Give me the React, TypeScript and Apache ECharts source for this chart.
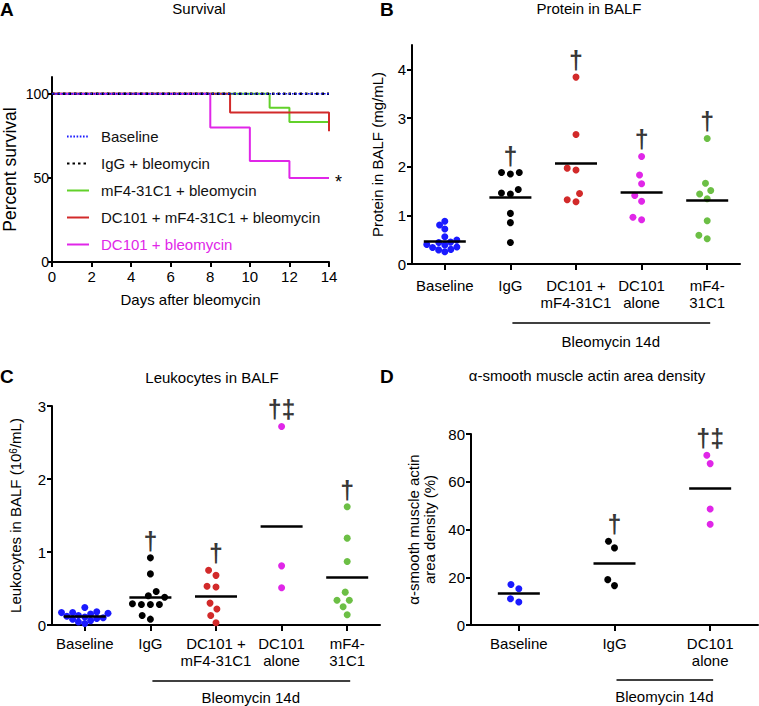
import React, { useEffect, useRef } from 'react';
import * as echarts from 'echarts';

// ---------- Panel A: survival (Kaplan-Meier steps, [day, percent]) ----------
const survNames = [
  'Baseline',
  'IgG + bleomycin',
  'mF4-31C1 + bleomycin',
  'DC101 + mF4-31C1 + bleomycin',
  'DC101 + bleomycin',
];
const survBaseline = [[0, 100], [14, 100]];
const survIgG = [[0, 100], [14, 100]];
const survMF4 = [[0, 100], [11, 91.7], [12, 83.3], [14, 83.3]];
const survCombo = [[0, 100], [9, 88.9], [14, 77.8]];
const survDC101 = [[0, 100], [8, 80], [10, 60], [12, 50], [14, 50]];
const survYTicks = [0, 50, 100];

// ---------- Categories ----------
const groups5 = ['Baseline', 'IgG', 'DC101 +\nmF4-31C1', 'DC101\nalone', 'mF4-\n31C1'];
const groups3 = ['Baseline', 'IgG', 'DC101\nalone'];

// ---------- Panel B: protein in BALF (mg/mL) ----------
const protBaseline = [0.88, 0.8, 0.72, 0.56, 0.49, 0.45, 0.44, 0.4, 0.39, 0.35, 0.34, 0.3, 0.29, 0.25];
const protIgG = [1.88, 1.85, 1.88, 1.53, 1.44, 1.46, 1.04, 0.85, 0.44];
const protCombo = [3.84, 2.66, 1.97, 1.93, 1.45, 1.28, 1.32];
const protDC101 = [2.21, 1.83, 1.65, 1.41, 1.29, 0.91, 0.96];
const protMF4 = [2.58, 1.66, 1.51, 1.44, 1.34, 0.89, 0.52, 0.59];
const protSig = ['', '†', '†', '†', '†'];
const protYTicks = [0, 1, 2, 3, 4];

// ---------- Panel C: leukocytes in BALF (10^6/mL) ----------
const leukBaseline = [0.24, 0.18, 0.17, 0.17, 0.16, 0.15, 0.13, 0.12, 0.11, 0.1, 0.09, 0.08, 0.06, 0.04, 0.02];
const leukIgG = [0.92, 0.7, 0.46, 0.4, 0.38, 0.29, 0.28, 0.28, 0.28, 0.13, 0.08];
const leukCombo = [0.75, 0.68, 0.52, 0.53, 0.3, 0.22, 0.13, 0.03];
const leukDC101 = [2.72, 0.81, 0.51];
const leukMF4 = [1.62, 1.19, 0.87, 0.45, 0.34, 0.34, 0.25, 0.14];
const leukSig = ['', '†', '†', '†‡', '†'];

// ---------- Panel D: alpha-SMA area density (%) ----------
const smaBaseline = [17.0, 15.2, 11.0, 9.6];
const smaIgG = [35.1, 32.3, 19.0, 16.5];
const smaDC101 = [71.1, 67.6, 48.6, 42.2];
const smaSig = ['', '†', '†‡'];

const FONT = "'Liberation Sans', Arial, Helvetica, sans-serif";
const BLUE = '#1a1aff';
const BLACK = '#000000';
const RED = '#d22a2a';
const MAG = '#e026e8';
const GREEN_LINE = '#62d12a';
const GREEN_DOT = '#6cbf45';

const mean = (a: number[]) => a.reduce((s, v) => s + v, 0) / a.length;

// beeswarm layout (pixel space), lowest values placed first so clusters fan out upward
function swarmOffsets(values: number[], pxPerUnit: number, d: number): number[] {
  const order = values.map((_, i) => i).sort((a, b) => values[a] - values[b]);
  const placed: { x: number; y: number }[] = [];
  const out = new Array(values.length).fill(0);
  for (const i of order) {
    const y = values[i] * pxPerUnit;
    const cands = [0];
    for (const p of placed) {
      const dy = Math.abs(p.y - y);
      if (dy < d) {
        const dx = Math.sqrt(d * d - dy * dy);
        cands.push(p.x + dx, p.x - dx);
      }
    }
    cands.sort((a, b) => Math.abs(a) - Math.abs(b) || a - b);
    let chosen = 0;
    for (const c of cands) {
      if (placed.every((p) => (p.x - c) ** 2 + (p.y - y) ** 2 >= d * d - 1e-6)) {
        chosen = c;
        break;
      }
    }
    placed.push({ x: chosen, y });
    out[i] = chosen;
  }
  return out;
}

function dotSeries(
  groups: number[][],
  colors: string[],
  sig: string[],
  xAxisIndex: number,
  yAxisIndex: number,
  gridW: number,
  gridH: number,
  yMax: number
) {
  const n = groups.length;
  const pxCat = gridW / n;
  const pxY = gridH / yMax;
  const hw = 21 / pxCat;
  const series: any[] = [];
  groups.forEach((vals, g) => {
    const off = swarmOffsets(vals, pxY, vals.length >= 12 ? 6.5 : 9);
    const m = mean(vals);
    series.push({
      type: 'scatter',
      xAxisIndex,
      yAxisIndex,
      symbol: 'circle',
      symbolSize: 7,
      itemStyle: { color: colors[g], opacity: 1 },
      data: vals.map((v, k) => [g + off[k] / pxCat, v]),
      markLine: {
        silent: true,
        symbol: ['none', 'none'],
        label: { show: false },
        lineStyle: { color: '#000', width: 2.5, type: 'solid' },
        data: [[{ coord: [g - hw, m] }, { coord: [g + hw, m] }]],
      },
      z: 3,
    });
  });
  series.push({
    type: 'scatter',
    xAxisIndex,
    yAxisIndex,
    symbolSize: 1,
    silent: true,
    itemStyle: { color: 'rgba(0,0,0,0)' },
    data: sig
      .map((s, g) => ({ name: s, value: [g, Math.max(...groups[g])] }))
      .filter((d) => d.name),
    label: {
      show: true,
      position: 'top',
      distance: 4,
      formatter: '{b}',
      fontSize: 25,
      fontWeight: 'bold',
      color: '#000',
      fontFamily: FONT,
    },
    z: 4,
  });
  return series;
}

const axisLineStyle = { show: true, onZero: false, lineStyle: { color: '#000', width: 2 } };
const tickStyle = { show: true, length: 5, lineStyle: { color: '#000', width: 2 } };
const labelStyle = { color: '#000', fontSize: 15, fontFamily: FONT };

function catAxis(gridIndex: number, data: string[], margin: number) {
  return {
    type: 'category',
    gridIndex,
    data,
    boundaryGap: true,
    axisLine: axisLineStyle,
    axisTick: { ...tickStyle, alignWithLabel: true, length: 6 },
    axisLabel: { ...labelStyle, interval: 0, lineHeight: 17, margin },
    splitLine: { show: false },
  };
}
function hiddenValAxis(gridIndex: number, n: number) {
  return { type: 'value', gridIndex, min: -0.5, max: n - 0.5, show: false };
}

// grid geometry (px)
const GA = { left: 52, top: 77, width: 277, height: 185 };
const GB = { left: 412, top: 45, width: 328, height: 219 };
const GC = { left: 52, top: 406, width: 328, height: 219 };
const GD = { left: 471, top: 434, width: 287, height: 191 };

export default function App() {
  const ref = useRef<HTMLDivElement>(null);
  useEffect(() => {
    document.body.style.margin = '0';
    const chart = echarts.init(ref.current!, null, { renderer: 'svg' });

    const survSeries = [
      { name: survNames[2], data: survMF4, color: GREEN_LINE },
      { name: survNames[3], data: survCombo, color: RED },
      { name: survNames[4], data: survDC101, color: MAG },
    ].map((s) => ({
      type: 'line',
      name: s.name,
      step: 'end',
      symbol: 'none',
      xAxisIndex: 0,
      yAxisIndex: 0,
      data: s.data,
      color: s.color,
      lineStyle: { color: s.color, width: 2 },
      z: 2,
      endLabel:
        s.name === survNames[4]
          ? { show: true, formatter: '*', fontSize: 18, color: '#000', distance: 6, fontFamily: FONT, offset: [0, 4] }
          : undefined,
    }));

    const option: any = {
      animation: false,
      textStyle: { fontFamily: FONT },
      grid: [GA, GB, GC, GD].map((g) => ({ ...g, containLabel: false })),
      legend: {
        left: 61,
        top: 124,
        orient: 'vertical',
        itemWidth: 22,
        itemHeight: 14,
        itemGap: 12,
        itemStyle: { opacity: 0 },
        textStyle: { fontSize: 15, color: '#111', fontFamily: FONT, padding: [0, 0, 0, 7] },
        data: [
          { name: survNames[0] },
          { name: survNames[1] },
          { name: survNames[2] },
          { name: survNames[3] },
          { name: survNames[4], textStyle: { color: MAG } },
        ],
      },
      xAxis: [
        {
          type: 'value',
          gridIndex: 0,
          min: 0,
          max: 14,
          interval: 2,
          axisLine: axisLineStyle,
          axisTick: tickStyle,
          axisLabel: { ...labelStyle, margin: 7 },
          splitLine: { show: false },
          name: 'Days after bleomycin',
          nameLocation: 'middle',
          nameGap: 30,
          nameTextStyle: { ...labelStyle },
        },
        catAxis(1, groups5, 13),
        hiddenValAxis(1, 5),
        catAxis(2, groups5, 10),
        hiddenValAxis(2, 5),
        catAxis(3, groups3, 10),
        hiddenValAxis(3, 3),
      ],
      yAxis: [
        {
          type: 'value',
          gridIndex: 0,
          min: 0,
          max: 110,
          axisLine: axisLineStyle,
          axisTick: { ...tickStyle, length: 4, customValues: survYTicks },
          axisLabel: { ...labelStyle, fontSize: 14, margin: 3, customValues: survYTicks },
          splitLine: { show: false },
          name: 'Percent survival',
          nameLocation: 'middle',
          nameGap: 33,
          nameTextStyle: { ...labelStyle, fontSize: 17.5 },
        },
        {
          type: 'value',
          gridIndex: 1,
          min: 0,
          max: 4.5,
          axisLine: axisLineStyle,
          axisTick: { ...tickStyle, customValues: protYTicks },
          axisLabel: { ...labelStyle, margin: 6, customValues: protYTicks },
          splitLine: { show: false },
          name: 'Protein in BALF (mg/mL)',
          nameLocation: 'middle',
          nameGap: 27,
          nameTextStyle: { ...labelStyle },
        },
        {
          type: 'value',
          gridIndex: 2,
          min: 0,
          max: 3,
          interval: 1,
          axisLine: axisLineStyle,
          axisTick: tickStyle,
          axisLabel: { ...labelStyle, margin: 6 },
          splitLine: { show: false },
          name: 'Leukocytes in BALF (10{sup|6}/mL)',
          nameLocation: 'middle',
          nameGap: 29,
          nameTextStyle: {
            ...labelStyle,
            rich: { sup: { fontSize: 10, verticalAlign: 'top', fontFamily: FONT, color: '#000' } },
          },
        },
        {
          type: 'value',
          gridIndex: 3,
          min: 0,
          max: 80,
          interval: 20,
          axisLine: axisLineStyle,
          axisTick: tickStyle,
          axisLabel: { ...labelStyle, margin: 6 },
          splitLine: { show: false },
          name: 'α-smooth muscle actin\narea density (%)',
          nameLocation: 'middle',
          nameGap: 34,
          nameTextStyle: { ...labelStyle, lineHeight: 16 },
        },
      ],
      series: [
        ...survSeries,
        {
          type: 'line',
          name: survNames[1],
          symbol: 'none',
          xAxisIndex: 0,
          yAxisIndex: 0,
          data: survIgG,
          color: BLACK,
          lineStyle: { color: BLACK, width: 2.5, type: [2.5, 3] },
          z: 3,
        },
        {
          type: 'line',
          name: survNames[0],
          symbol: 'none',
          xAxisIndex: 0,
          yAxisIndex: 0,
          data: survBaseline,
          color: BLUE,
          lineStyle: { color: BLUE, width: 1.6, type: [1.6, 1.6] },
          z: 4,
        },
        ...dotSeries(
          [protBaseline, protIgG, protCombo, protDC101, protMF4],
          [BLUE, BLACK, RED, MAG, GREEN_DOT],
          protSig,
          2,
          1,
          GB.width,
          GB.height,
          4.5
        ),
        ...dotSeries(
          [leukBaseline, leukIgG, leukCombo, leukDC101, leukMF4],
          [BLUE, BLACK, RED, MAG, GREEN_DOT],
          leukSig,
          4,
          2,
          GC.width,
          GC.height,
          3
        ),
        ...dotSeries(
          [smaBaseline, smaIgG, smaDC101],
          [BLUE, BLACK, MAG],
          smaSig,
          6,
          3,
          GD.width,
          GD.height,
          80
        ),
      ],
    };
    chart.setOption(option);

    // brackets "Bleomycin 14d" placed through the axes' own scales
    const bracket = (xAxisIndex: number, yAxisIndex: number, from: number, to: number, drop: number, textGap: number) => {
      const x1 = chart.convertToPixel({ xAxisIndex }, from) as number;
      const x2 = chart.convertToPixel({ xAxisIndex }, to) as number;
      const y0 = chart.convertToPixel({ yAxisIndex }, 0) as number;
      const y = y0 + drop;
      return [
        { type: 'line', shape: { x1: x1 + 2, y1: y, x2: x2 + 3, y2: y }, style: { stroke: '#000', lineWidth: 1.6 } },
        {
          type: 'text',
          x: (x1 + x2) / 2 + 2,
          y: y + textGap,
          style: { text: 'Bleomycin 14d', fontSize: 15, fontFamily: FONT, fill: '#000', align: 'center', verticalAlign: 'middle' },
        },
      ];
    };
    const txt = (text: string, x: number, y: number, size: number, bold = false, align = 'center') => ({
      type: 'text',
      x,
      y,
      style: {
        text,
        fontSize: size,
        fontWeight: bold ? 'bold' : 'normal',
        fontFamily: FONT,
        fill: '#000',
        align,
        verticalAlign: 'middle',
      },
    });
    chart.setOption({
      graphic: [
        txt('A', 0, 9, 19, true, 'left'),
        txt('B', 380, 9, 19, true, 'left'),
        txt('C', 0, 376, 19, true, 'left'),
        txt('D', 380, 376, 19, true, 'left'),
        txt('Survival', 199, 8, 15),
        txt('Protein in BALF', 589, 8, 15),
        txt('Leukocytes in BALF', 212, 377, 15),
        txt('α-smooth muscle actin area density', 587, 375, 15),
        ...bracket(2, 1, 1, 4, 59, 18),
        ...bracket(4, 2, 1, 4, 56, 16),
        ...bracket(6, 3, 1, 2, 55, 16),
      ],
    });

    return () => chart.dispose();
  }, []);
  return <div ref={ref} style={{ width: 759, height: 706 }} />;
}
